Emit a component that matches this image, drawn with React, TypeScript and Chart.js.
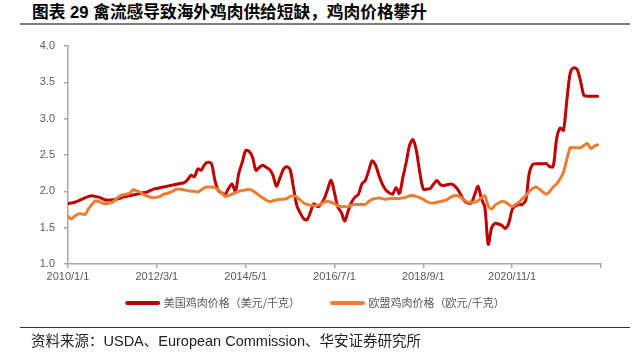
import React, { useEffect, useRef } from "react";
import { Chart, registerables } from "chart.js";

Chart.register(...registerables);

// Monthly observations, 2010/1 .. 2022/12
const usPrice: number[] = [
  1.83, 1.84, 1.85, 1.87, 1.89, 1.91, 1.93, 1.94, 1.93, 1.92, 1.90, 1.88,
  1.88, 1.88, 1.89, 1.90, 1.92, 1.93, 1.94, 1.95, 1.96, 1.97, 1.98, 1.99,
  2.01, 2.03, 2.04, 2.05, 2.06, 2.07, 2.08, 2.09, 2.10, 2.11, 2.12, 2.16,
  2.22, 2.20, 2.31, 2.29, 2.37, 2.40, 2.38, 2.15, 2.01, 1.98, 1.96, 2.04,
  2.10, 2.00, 2.25, 2.40, 2.56, 2.55, 2.47, 2.29, 2.33, 2.36, 2.33, 2.30,
  2.22, 2.07, 2.18, 2.30, 2.34, 2.30, 2.05, 1.80, 1.70, 1.62, 1.61, 1.72,
  1.83, 1.79, 1.82, 1.90, 2.03, 2.15, 1.98, 1.78, 1.71, 1.59, 1.73, 1.85,
  1.92, 1.96, 2.10, 2.15, 2.28, 2.42, 2.36, 2.22, 2.10, 2.02, 1.98, 1.96,
  2.05, 1.97, 2.19, 2.40, 2.64, 2.71, 2.55, 2.25, 2.03, 2.03, 2.04, 2.10,
  2.15, 2.09, 2.08, 2.09, 2.10, 2.08, 2.03, 1.95, 1.87, 1.84, 1.84, 1.95,
  2.07, 1.90, 1.78, 1.27, 1.50, 1.56, 1.55, 1.53, 1.49, 1.56, 1.75, 1.80,
  1.82, 1.82, 1.88, 2.25, 2.37, 2.38, 2.38, 2.38, 2.38, 2.34, 2.34, 2.72,
  2.87, 2.84, 3.25, 3.63, 3.70, 3.68, 3.52, 3.32, 3.31, 3.31, 3.31, 3.31,
];

const euPrice: number[] = [
  1.66, 1.62, 1.66, 1.69, 1.69, 1.68, 1.76, 1.82, 1.87, 1.86, 1.84, 1.83,
  1.84, 1.85, 1.89, 1.93, 1.95, 1.96, 1.97, 2.02, 2.01, 1.99, 1.96, 1.94,
  1.92, 1.91, 1.92, 1.93, 1.96, 1.97, 1.99, 2.01, 2.03, 2.03, 2.02, 2.01,
  2.00, 2.00, 1.99, 2.02, 2.05, 2.06, 2.06, 2.05, 2.02, 1.98, 1.93, 1.94,
  1.96, 1.98, 2.00, 2.01, 2.02, 2.03, 2.01, 1.98, 1.94, 1.91, 1.88, 1.86,
  1.87, 1.88, 1.89, 1.89, 1.90, 1.93, 1.94, 1.92, 1.88, 1.84, 1.82, 1.81,
  1.80, 1.81, 1.82, 1.85, 1.86, 1.85, 1.83, 1.80, 1.79, 1.79, 1.79, 1.81,
  1.82, 1.82, 1.82, 1.82, 1.86, 1.89, 1.90, 1.91, 1.90, 1.89, 1.90, 1.90,
  1.90, 1.90, 1.91, 1.92, 1.94, 1.94, 1.93, 1.91, 1.89, 1.86, 1.84, 1.84,
  1.85, 1.86, 1.87, 1.89, 1.92, 1.94, 1.94, 1.92, 1.88, 1.85, 1.85, 1.85,
  1.87, 1.91, 1.94, 1.80, 1.76, 1.81, 1.84, 1.86, 1.85, 1.82, 1.79, 1.82,
  1.85, 1.90, 1.94, 2.00, 2.04, 2.06, 2.03, 1.99, 1.96, 2.00, 2.06, 2.10,
  2.17, 2.26, 2.44, 2.60, 2.60, 2.60, 2.60, 2.63, 2.66, 2.59, 2.62, 2.64,
];

const xTickLabels: string[] = ["2010/1/1", "2012/3/1", "2014/5/1", "2016/7/1", "2018/9/1", "2020/11/1"];
const yTickValues: number[] = [1.0, 1.5, 2.0, 2.5, 3.0, 3.5, 4.0];
const seriesNames: string[] = ["美国鸡肉价格（美元/千克）", "欧盟鸡肉价格（欧元/千克）"];
const titleText = "图表 29 禽流感导致海外鸡肉供给短缺，鸡肉价格攀升";
const sourceText = "资料来源：USDA、European Commission、华安证券研究所";

const MONTH_STEP = 26;
const RED = "#C00000";
const ORANGE = "#ED7D31";
const AXIS = "#A6A6A6";
const LABEL = "#595959";
const LEGEND_PAD = 32;
const LEGEND_FONT = 11;
const LEGEND_CENTER_Y = 303;

// moves the bottom legend up so it sits just under the axis labels
const legendShift = {
  id: "legendShift",
  afterLayout(chart: any) {
    const lg = chart.legend;
    if (!lg) return;
    const d = lg.top + LEGEND_PAD + LEGEND_FONT / 2 - LEGEND_CENTER_Y;
    lg.top -= d;
    lg.bottom -= d;
  },
};

export default function App() {
  const canvasRef = useRef<HTMLCanvasElement | null>(null);

  useEffect(() => {
    if (!canvasRef.current) return;
    const chart = new Chart(canvasRef.current, {
      type: "line",
      data: {
        datasets: [
          {
            label: seriesNames[1],
            data: euPrice.map((v, i) => ({ x: i, y: v })),
            borderColor: ORANGE,
            backgroundColor: ORANGE,
            borderWidth: 3,
            pointRadius: 0,
            tension: 0.3,
            borderCapStyle: "round",
            borderJoinStyle: "round",
          },
          {
            label: seriesNames[0],
            data: usPrice.map((v, i) => ({ x: i, y: v })),
            borderColor: RED,
            backgroundColor: RED,
            borderWidth: 3,
            pointRadius: 0,
            tension: 0.3,
            borderCapStyle: "round",
            borderJoinStyle: "round",
          },
        ],
      },
      plugins: [legendShift],
      options: {
        animation: false,
        responsive: false,
        maintainAspectRatio: false,
        layout: { padding: { left: 31, right: 41, top: 46, bottom: 1 } },
        plugins: {
          tooltip: { enabled: false },
          legend: {
            position: "bottom",
            labels: {
              usePointStyle: true,
              pointStyle: "line",
              pointStyleWidth: 31,
              padding: LEGEND_PAD,
              color: LABEL,
              font: { size: LEGEND_FONT, family: '"Noto Sans CJK SC", sans-serif' },
              sort: (a: any, b: any) => b.datasetIndex - a.datasetIndex,
              generateLabels: (c: any) => {
                const items = Chart.defaults.plugins.legend.labels.generateLabels(c);
                return items.map((it: any) => ({ ...it, lineWidth: 4, lineCap: "round", pointStyle: "line" }));
              },
            },
          },
        },
        scales: {
          x: {
            type: "linear",
            min: 0,
            max: MONTH_STEP * xTickLabels.length,
            afterFit: (s: any) => {
              s.height = 22;
            },
            grid: { display: true, drawOnChartArea: false, drawTicks: true, tickLength: 4, color: AXIS, lineWidth: 1.5 },
            border: { display: true, color: AXIS, width: 1.5 },
            ticks: {
              stepSize: MONTH_STEP,
              autoSkip: false,
              maxRotation: 0,
              padding: 2,
              color: LABEL,
              font: { size: 11, family: '"Liberation Sans", Arial, sans-serif' },
              callback: (v: any) => {
                const idx = Math.round(Number(v) / MONTH_STEP);
                return xTickLabels[idx] ?? "";
              },
            },
          },
          y: {
            min: yTickValues[0],
            max: yTickValues[yTickValues.length - 1],
            afterFit: (s: any) => {
              s.width = 37;
            },
            grid: { display: true, drawOnChartArea: false, drawTicks: true, tickLength: 4, color: AXIS, lineWidth: 1.5 },
            border: { display: true, color: AXIS, width: 1.5 },
            ticks: {
              stepSize: 0.5,
              padding: 9,
              color: LABEL,
              font: { size: 11, family: '"Liberation Sans", Arial, sans-serif' },
              callback: (v: any) => Number(v).toFixed(1),
            },
          },
        },
      },
    } as any);
    return () => chart.destroy();
  }, []);

  return (
    <div style={{ position: "absolute", left: 0, top: 0, width: 642, height: 363, background: "#fff", overflow: "hidden" }}>
      <div
        style={{
          position: "absolute",
          left: 32,
          top: 3,
          height: 20,
          lineHeight: "20px",
          fontSize: 16.7,
          fontWeight: "bold",
          color: "#000",
          whiteSpace: "nowrap",
          fontFamily: '"Liberation Sans", "Noto Sans CJK SC", sans-serif',
        }}
      >
        {titleText}
      </div>
      <div style={{ position: "absolute", left: 20, top: 23, width: 610, height: 2, background: "#7F7F7F" }} />
      <canvas ref={canvasRef} width={642} height={340} style={{ position: "absolute", left: 0, top: 0, width: 642, height: 340 }} />
      <div style={{ position: "absolute", left: 20, top: 327, width: 610, height: 1, background: "#333" }} />
      <div
        style={{
          position: "absolute",
          left: 31,
          top: 332,
          height: 18,
          lineHeight: "18px",
          fontSize: 14.5,
          color: "#222",
          whiteSpace: "nowrap",
          fontFamily: '"Liberation Sans", "Noto Sans CJK SC", sans-serif',
        }}
      >
        {sourceText}
      </div>
    </div>
  );
}
